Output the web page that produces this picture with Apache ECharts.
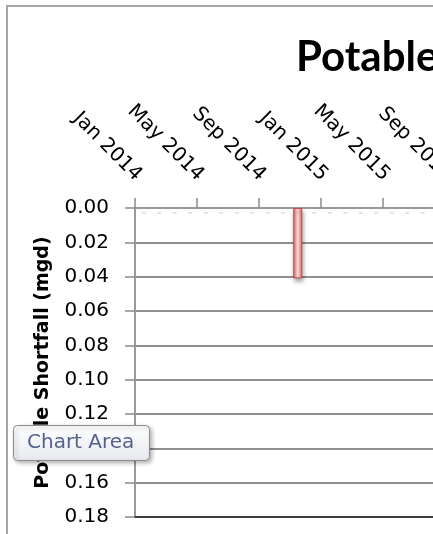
<!DOCTYPE html>
<html>
<head>
<meta charset="utf-8">
<script src="https://cdn.jsdelivr.net/npm/echarts@6/dist/echarts.min.js"></script>
<style>
  html, body { margin: 0; padding: 0; background: #ffffff; overflow: hidden; }
  #chart { width: 560px; height: 600px; }
</style>
</head>
<body>
<div id="chart"></div>
<script>
// Monthly reporting periods
const months = [
  'Jan 2014', 'Feb 2014', 'Mar 2014', 'Apr 2014', 'May 2014', 'Jun 2014',
  'Jul 2014', 'Aug 2014', 'Sep 2014', 'Oct 2014', 'Nov 2014', 'Dec 2014',
  'Jan 2015', 'Feb 2015', 'Mar 2015', 'Apr 2015', 'May 2015', 'Jun 2015',
  'Jul 2015', 'Aug 2015', 'Sep 2015', 'Oct 2015', 'Nov 2015', 'Dec 2015'
];

// Potable shortfall per month (mgd)
const shortfall = [
  0, 0, 0, 0, 0, 0,
  0, 0, 0, 0, 0.041, 0,
  0, 0, 0, 0, 0, 0,
  0, 0, 0, 0, 0, 0
];

// Value axis range (mgd)
const yMin = 0;
const yMax = 0.18;
const yStep = 0.02;

const chartTitle = 'Potable Shortfall';
const yAxisTitle = 'Potable Shortfall (mgd)';
const hoverLabel = 'Chart Area';

const FONT = 'DejaVu Sans';
const chart = echarts.init(document.getElementById('chart'), null, { renderer: 'canvas' });

// Zero-height columns draw no outline, only their soft shadow
const barData = shortfall.map(v => v === 0
  ? { value: v, itemStyle: { borderWidth: 0, shadowBlur: 0, shadowColor: 'rgba(0,0,0,0)' } }
  : v);

// Soft drop shadows under months that have no shortfall
const zeroShadows = shortfall
  .map((v, i) => [i, v])
  .filter(d => d[1] === 0);

chart.setOption({
  animation: false,
  backgroundColor: '#ffffff',
  title: {
    text: chartTitle,
    left: 296,
    top: 36,
    padding: 0,
    textStyle: { fontFamily: 'Lato', fontWeight: 'bold', fontSize: 42, color: '#000000' }
  },
  grid: { left: 135, top: 208, width: 372, bottom: 83, containLabel: false },
  xAxis: [
    {
      type: 'category',
      position: 'top',
      data: months,
      boundaryGap: true,
      axisLine: { show: true, lineStyle: { color: '#9a9a9a', width: 2 } },
      axisTick: { show: true, interval: 3, length: 10, inside: false, lineStyle: { color: '#8a8a8a', width: 1.5 } },
      axisLabel: {
        interval: 3,
        rotate: -45,
        margin: 26,
        padding: [0, 6, 0, 0],
        fontFamily: FONT,
        fontSize: 20,
        color: '#000000'
      },
      splitLine: { show: false }
    },
    {
      type: 'category',
      position: 'bottom',
      data: months,
      boundaryGap: true,
      axisLine: { show: true, lineStyle: { color: '#3c3c3c', width: 2 } },
      axisTick: { show: false },
      axisLabel: { show: false },
      splitLine: { show: false }
    }
  ],
  yAxis: {
    type: 'value',
    inverse: true,
    min: yMin,
    max: yMax,
    interval: yStep,
    name: yAxisTitle,
    nameLocation: 'middle',
    nameGap: 82,
    nameTextStyle: { fontFamily: FONT, fontWeight: 'bold', fontSize: 19, color: '#000000' },
    axisLine: { show: true, lineStyle: { color: '#9a9a9a', width: 2 } },
    axisTick: { show: true, length: 10, lineStyle: { color: '#8a8a8a', width: 1.5 } },
    axisLabel: {
      margin: 26,
      fontFamily: FONT,
      fontSize: 20,
      color: '#000000',
      formatter: v => v.toFixed(2)
    },
    splitLine: { show: true, lineStyle: { color: '#909090', width: 2 } }
  },
  series: [
    {
      type: 'scatter',
      xAxisIndex: 0,
      data: zeroShadows,
      symbol: 'rect',
      symbolSize: [4, 2],
      symbolOffset: [1, 5],
      silent: true,
      z: 1,
      itemStyle: {
        color: 'rgba(0,0,0,0.12)',
        shadowColor: 'rgba(0,0,0,0.28)',
        shadowBlur: 3
      }
    },
    {
      type: 'bar',
      xAxisIndex: 0,
      data: barData,
      barWidth: 9,
      z: 3,
      itemStyle: {
        color: new echarts.graphic.LinearGradient(0, 0, 1, 0, [
          { offset: 0, color: '#e06464' },
          { offset: 0.5, color: '#fde2e2' },
          { offset: 1, color: '#e06464' }
        ]),
        borderColor: '#cc4a4a',
        borderWidth: 1,
        shadowColor: 'rgba(0,0,0,0.35)',
        shadowBlur: 4,
        shadowOffsetY: 3,
        shadowOffsetX: 1
      }
    }
  ],
  graphic: [
    {
      type: 'rect',
      z: -10,
      silent: true,
      shape: { x: 7, y: 6, width: 1200, height: 1200 },
      style: { fill: 'none', stroke: '#a6a6a6', lineWidth: 2 }
    },
    {
      type: 'rect',
      z: 200,
      zlevel: 1,
      shape: { x: 13.5, y: 425.5, width: 136, height: 35, r: 4 },
      style: {
        fill: new echarts.graphic.LinearGradient(0, 0, 0, 1, [
          { offset: 0, color: '#ffffff' },
          { offset: 1, color: '#e6e9ef' }
        ]),
        stroke: '#8d8d8d',
        lineWidth: 1,
        shadowColor: 'rgba(0,0,0,0.3)',
        shadowBlur: 4,
        shadowOffsetX: 2,
        shadowOffsetY: 2
      }
    },
    {
      type: 'text',
      z: 201,
      zlevel: 1,
      style: {
        x: 27,
        y: 443,
        text: hoverLabel,
        fontFamily: FONT,
        fontSize: 20,
        fill: '#56618c',
        verticalAlign: 'middle',
        align: 'left'
      }
    }
  ]
});
</script>
</body>
</html>
